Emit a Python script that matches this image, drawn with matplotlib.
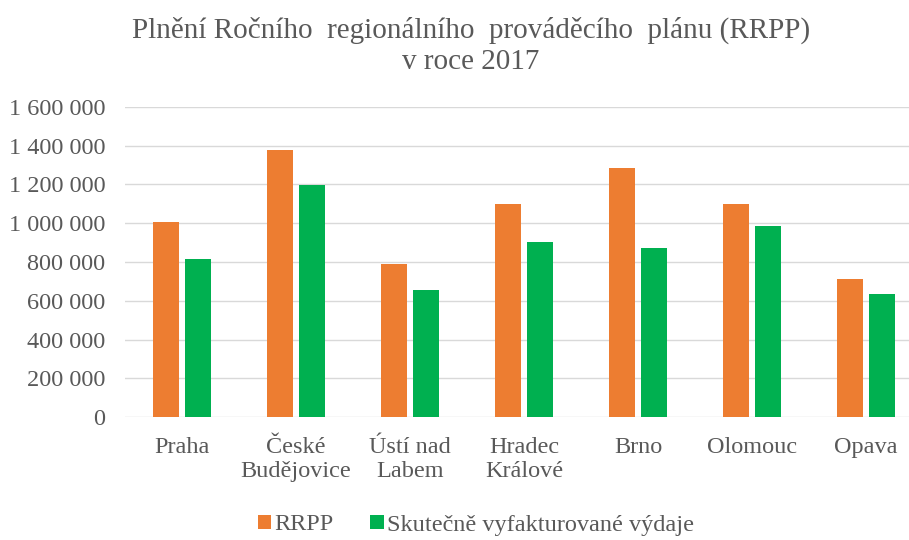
import matplotlib
matplotlib.use("Agg")
import matplotlib.pyplot as plt
from matplotlib.ticker import FuncFormatter, MultipleLocator
import numpy as np

categories = ["Praha", "České\nBudějovice", "Ústí nad\nLabem", "Hradec\nKrálové", "Brno", "Olomouc", "Opava"]
rrpp = [1005000, 1375000, 790000, 1097000, 1282000, 1097000, 714000]
actual = [817000, 1198000, 654000, 901000, 870000, 984000, 633000]
series_names = ["RRPP", "Skutečně vyfakturované výdaje"]
title_lines = ["Plnění Ročního  regionálního  prováděcího  plánu (RRPP)", "v roce 2017"]

W, H = 909, 540
fig = plt.figure(figsize=(W / 100, H / 100), dpi=100)
plt.rcParams['font.family'] = ['Liberation Serif', 'DejaVu Serif']
text_color = "#595959"
fs = 17.5

left, right, top, bottom = 125, 923, 106.7, 417.3
ax = fig.add_axes([left / W, 1 - bottom / H, (right - left) / W, (bottom - top) / H])

x = np.arange(len(categories))
bw = 0.228
off = 0.14
ax.bar(x - off, rrpp, width=bw, color="#ED7D31", label=series_names[0], zorder=3)
ax.bar(x + off, actual, width=bw, color="#00B050", label=series_names[1], zorder=3)

ax.set_xlim(-0.5, len(categories) - 0.5)
ax.set_ylim(0, 1600000)
ax.yaxis.set_major_locator(MultipleLocator(200000))
ax.yaxis.set_major_formatter(FuncFormatter(lambda v, p: f"{v:,.0f}".replace(",", " ")))
ax.grid(axis="y", color="#D9D9D9", linewidth=1.0, zorder=0)
ax.set_axisbelow(True)
for s in ax.spines.values():
    s.set_visible(False)
ax.set_xticks(x)
ax.set_xticklabels(categories, fontsize=fs, color=text_color, linespacing=1.2)
ax.tick_params(axis="both", length=0)
ax.tick_params(axis="y", labelsize=fs, labelcolor=text_color, pad=14)
ax.tick_params(axis="x", pad=14)

fig.text(471 / W, 1 - 30 / H, title_lines[0], ha="center", va="center", fontsize=21, color=text_color)
fig.text(471 / W, 1 - 62 / H, title_lines[1], ha="center", va="center", fontsize=21, color=text_color)

leg = fig.legend(loc="center", bbox_to_anchor=(476 / W, 1 - 525 / H), ncol=2, frameon=False,
                 fontsize=fs, handlelength=0.55, handleheight=0.55, handletextpad=0.15,
                 columnspacing=1.5, labelcolor=text_color)

fig.savefig("out.png", dpi=100)
